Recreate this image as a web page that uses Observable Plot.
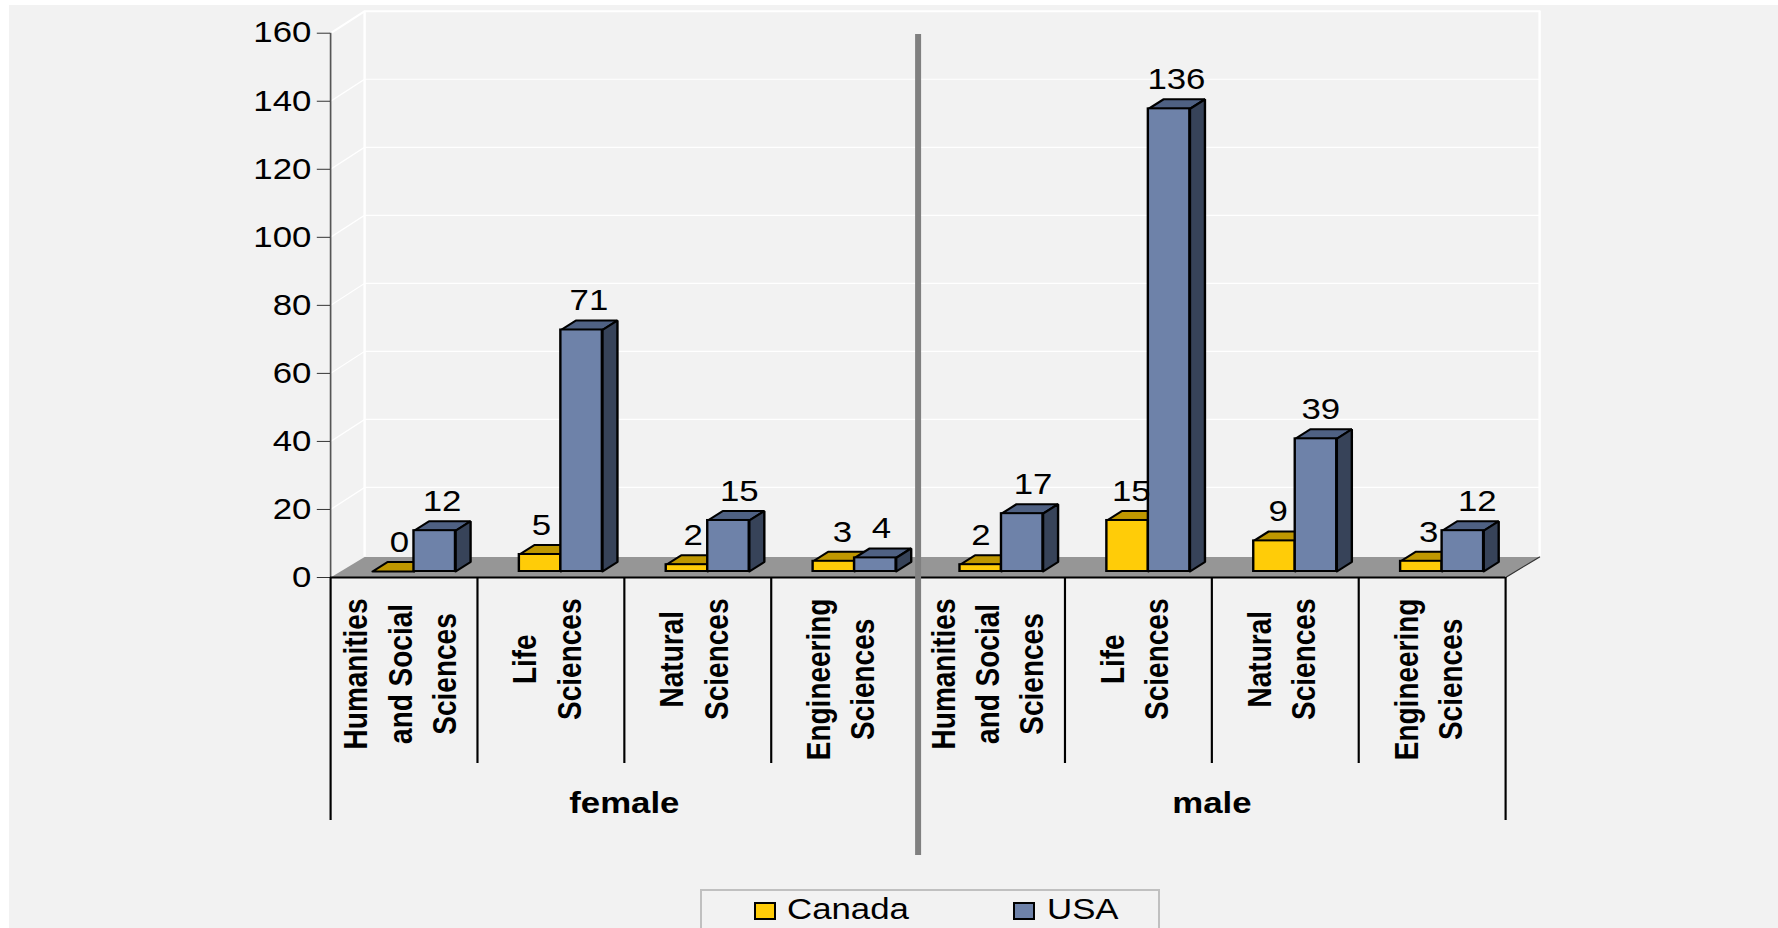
<!DOCTYPE html>
<html>
<head>
<meta charset="utf-8">
<script src="https://cdn.jsdelivr.net/npm/d3@7"></script>
<script src="https://cdn.jsdelivr.net/npm/@observablehq/plot@0.6"></script>
<style>
  html, body { margin: 0; background: #fff; }
  body { width: 1778px; height: 928px; overflow: hidden; position: relative; }
  #panel { position: absolute; left: 9px; top: 5px; width: 1769px; height: 923px; background: #f2f2f2; }
  #chart { position: absolute; left: 0; top: 0; }
  #chart svg { display: block; background: transparent; }
  #legend { position: absolute; left: 700px; top: 889px; width: 456px; height: 60px; border: 2px solid #c0c0c0;
            font: 29px "Liberation Sans", Arial, sans-serif; color: #000; }
  #legend .sw { position: absolute; top: 11px; width: 18px; height: 14px; border: 2px solid #000; }
  #legend .tx { position: absolute; top: 2px; transform: scaleX(1.2); transform-origin: 0 0; white-space: nowrap; line-height: 32px; }
</style>
</head>
<body>
<div id="panel"></div>
<div id="chart"></div>
<div id="legend">
  <div class="sw" style="left:52px;background:#ffcc08"></div><div class="tx" style="left:85px">Canada</div>
  <div class="sw" style="left:311px;background:#6e82a9"></div><div class="tx" style="left:345px">USA</div>
</div>
<script>
// Doctoral graduates by field, sex and country.
const sexes = ["female", "male"];
const fields = ["Humanities\nand Social\nSciences", "Life\nSciences", "Natural\nSciences", "Engineering\nSciences"];
const canada = [0, 5, 2, 3, 2, 15, 9, 3];
const usa = [12, 71, 15, 4, 17, 136, 39, 12];
const yTicks = [0, 20, 40, 60, 80, 100, 120, 140, 160];

// Horizontal nudges of the value labels, in pixels of the unstretched chart.
const canadaLabelShift = [5, 1, 5, 7, 0, 3, 3, 6];
const usaLabelShift = [6, 6, 9, 5, 9, 6, 4, 12];

// The chart is laid out narrower and stretched sideways as a whole.
const stretch = 1.2;
const outerW = 1778, outerH = 880;
const W = outerW / stretch;
const plotLeft = 330 / stretch, plotRight = 1505 / stretch;
const y0px = 577, y160px = 32.7;
const pxPerUnit = (y0px - y160px) / 160;
const pxPerCat = (plotRight - plotLeft) / 8;

// Depth of the box and of each bar, in the data units of both axes.
const wallX = (34 / stretch) / pxPerCat, wallY = 20.5 / pxPerUnit, gridY = 22 / pxPerUnit;
const barDX = (15 / stretch) / pxPerCat, barDY = 9.5 / pxPerUnit;
const barShift = -6;
const barStart = 42 / 146.9, barWidth = 41.5 / 146.9;

const cats = [];
for (let i = 0; i < 8; i++) cats.push({i, field: fields[i % 4]});

function bars(values, slot) {
  return values.map((v, i) => {
    const x1 = i + barStart + slot * barWidth;
    return {i, v, x1, x2: x1 + barWidth};
  });
}
const canadaBars = bars(canada, 0);
const usaBars = bars(usa, 1);

function topFace(b) {
  return [[b.x1, b.v], [b.x1 + barDX, b.v + barDY], [b.x2 + barDX, b.v + barDY], [b.x2, b.v], [b.x1, b.v]]
    .map(([x, y]) => ({x, y, id: b.i}));
}
function sideFace(b) {
  return [[b.x2, 0], [b.x2 + barDX, barDY], [b.x2 + barDX, b.v + barDY], [b.x2, b.v], [b.x2, 0]]
    .map(([x, y]) => ({x, y, id: b.i}));
}
const poly = (rows, fill) => Plot.line(rows, {
  x: "x", y: "y", z: "id", fill, stroke: "#000", strokeWidth: 2, dy: barShift,
  curve: "linear", strokeLinejoin: "miter"
});
function barMarks(list, front, top, side) {
  return [
    poly(list.flatMap(topFace), top),
    poly(list.flatMap(sideFace), side),
    Plot.rect(list, {x1: "x1", x2: "x2", y1: 0, y2: "v", fill: front, stroke: "#000", strokeWidth: 2, dy: barShift})
  ];
}

const floor = [[0, 0], [8, 0], [8 + wallX, wallY], [wallX, wallY]].map(([x, y]) => ({x, y}));
const grid = yTicks.flatMap(v => [
  {x: 0, y: v, id: v},
  {x: wallX, y: v + gridY, id: v},
  {x: 8 + wallX, y: v + gridY, id: v}
]);
const top160 = 160 + gridY;

// Centre each rotated label on its longest line, so the blocks share a top edge.
const ctx = document.createElement("canvas").getContext("2d");
ctx.font = "bold 28px 'Liberation Sans'";
const longest = s => d3.max(s.split("\n"), l => ctx.measureText(l).width);
const labelTop = -(598 - y0px) / pxPerUnit;
const labelY = s => labelTop - longest(s) / 2 / pxPerUnit;

const valueLabel = (list, shift) => Plot.text(list, {
  x: b => (b.x1 + b.x2) / 2 + shift[b.i] / pxPerCat,
  y: "v",
  text: b => String(b.v),
  dy: -35,
  fontSize: 29,
  fill: "#000"
});

const chart = Plot.plot({
  width: W,
  height: outerH,
  marginLeft: plotLeft,
  marginRight: W - plotRight,
  marginTop: y160px,
  marginBottom: outerH - y0px,
  style: {background: "transparent", fontFamily: "'Liberation Sans', Arial, sans-serif", color: "#000", overflow: "visible"},
  x: {domain: [0, 8], axis: null},
  y: {domain: [0, 160], axis: null},
  marks: [
    // Box: floor, white grid lines running back from the axis, back wall edges
    Plot.line(floor, {x: "x", y: "y", fill: "#969696", stroke: "none"}),
    Plot.line(grid.filter(d => d.id > 0 && d.id < 160), {x: "x", y: "y", z: "id", stroke: "#fff", strokeWidth: 1.2}),
    Plot.line(grid.filter(d => d.id === 160), {x: "x", y: "y", z: "id", stroke: "#fff", strokeWidth: 2}),
    Plot.ruleX([wallX, 8 + wallX], {y1: wallY, y2: top160, stroke: "#fff", strokeWidth: 2}),
    Plot.line([{x: 8, y: 0}, {x: 8 + wallX, y: wallY}], {x: "x", y: "y", stroke: "#333", strokeWidth: 1}),

    // Value axis
    Plot.ruleX([0], {y1: 0, y2: 160, stroke: "#555", strokeWidth: 1.4}),
    Plot.axisY({ticks: yTicks, tickSize: 11, tickPadding: 5, fontSize: 29, stroke: "#333", fill: "#000", label: null, tickFormat: d => String(d)}),

    // Bars
    ...barMarks(canadaBars, "#ffcc08", "#bf9700", "#a07f00"),
    ...barMarks(usaBars, "#6e82a9", "#4f6183", "#374359"),

    // Floor front edge and the two-level category brackets
    Plot.ruleY([0], {x1: 0, x2: 8, stroke: "#000", strokeWidth: 2}),
    Plot.ruleX([1, 2, 3, 5, 6, 7], {y1: 0, y2: -(763 - y0px) / pxPerUnit, stroke: "#000", strokeWidth: 1.8}),
    Plot.ruleX([0, 4, 8], {y1: 0, y2: -(820 - y0px) / pxPerUnit, stroke: "#000", strokeWidth: 1.8}),

    // Separator between the sexes
    Plot.ruleX([4], {y1: (y0px - 34) / pxPerUnit, y2: -(855 - y0px) / pxPerUnit, stroke: "#808080", strokeWidth: 5}),

    // Labels
    Plot.text(cats, {
      x: d => d.i + 0.5,
      y: d => labelY(d.field),
      text: "field",
      rotate: -90,
      dx: -5.5,
      lineHeight: 1.32,
      fontSize: 28,
      fontWeight: "bold",
      fill: "#000"
    }),
    Plot.text(sexes, {
      x: (d, i) => 2 + 4 * i,
      y: -(803 - y0px) / pxPerUnit,
      text: d => d,
      fontSize: 29,
      fontWeight: "bold",
      fill: "#000"
    }),
    valueLabel(canadaBars, canadaLabelShift),
    valueLabel(usaBars, usaLabelShift)
  ]
});

// Stretch the whole drawing to the full page width.
chart.setAttribute("viewBox", `0 0 ${W} ${outerH}`);
chart.setAttribute("preserveAspectRatio", "none");
chart.setAttribute("width", outerW);
chart.setAttribute("height", outerH);
chart.style.width = outerW + "px";
chart.style.height = outerH + "px";
chart.style.maxWidth = "none";
document.getElementById("chart").appendChild(chart);
</script>
</body>
</html>
